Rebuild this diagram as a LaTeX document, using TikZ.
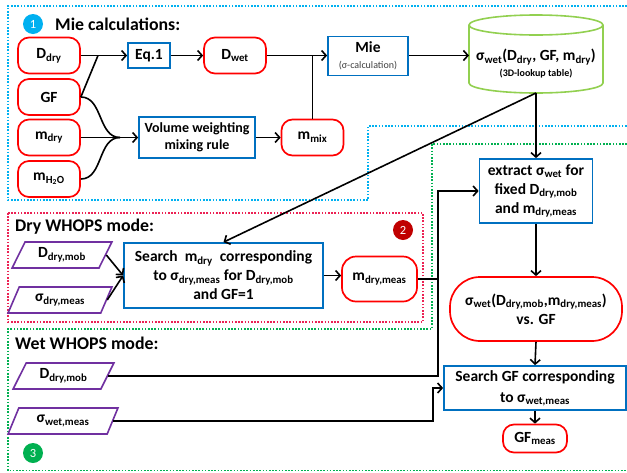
\documentclass[tikz,border=0pt]{standalone}
\usepackage{fontspec}
\setmainfont{Carlito}
\usetikzlibrary{arrows.meta,shapes.geometric}

\definecolor{boxblue}{RGB}{0,112,192}
\definecolor{redline}{RGB}{255,0,0}
\definecolor{purp}{RGB}{112,48,160}
\definecolor{lutgreen}{RGB}{146,208,80}
\definecolor{regblue}{RGB}{0,176,240}
\definecolor{regred}{RGB}{236,34,84}
\definecolor{reggreen}{RGB}{0,176,80}
\definecolor{badgered}{RGB}{192,0,0}

\newcommand\sbt[1]{\textsubscript{#1}}

\tikzset{
  every node/.style={font=\bfseries\fontsize{15.5}{19}\selectfont, align=center},
  redbox/.style={draw=redline, line width=1.7pt, rounded corners=11pt,
    minimum width=62pt, minimum height=36pt, inner sep=1pt},
  bluebox/.style={draw=boxblue, line width=1.7pt, inner sep=1pt},
  databox/.style={draw=purp, line width=1.6pt, trapezium,
    trapezium left angle=60, trapezium right angle=120,
    trapezium stretches=true, minimum height=26pt, inner sep=0pt},
  conn/.style={line width=1.6pt},
  arr/.style={conn, -{Straight Barb[length=4.5pt,width=10pt]}},
  region/.style={line width=1.8pt, dash pattern=on 1.6pt off 1.6pt},
  badge/.style={circle, inner sep=0pt, minimum size=20pt, text=white,
    font=\fontsize{12.5}{12}\selectfont},
  title/.style={anchor=base west, inner sep=0pt,
    font=\bfseries\fontsize{17.8}{20}\selectfont},
}

\begin{document}
\begin{tikzpicture}[x=1pt,y=-1pt]
\useasboundingbox (0,0) rectangle (627,472);
\fill[white] (0,0) rectangle (627,472);

% dotted frames of the three stages
\draw[region, regblue] (627,6) -- (8,6) -- (8,200) -- (368,200) -- (368,126) -- (627,126);
\draw[region, reggreen] (627,144) -- (432,144) -- (432,329) -- (8,329) -- (8,470.5) -- (627,470.5);
\draw[region, regred] (8,213) rectangle (423,322);

% stage 1: Mie calculations
\node[badge, fill=regblue] (b1) at (33,24) {1};
\node[title] (t1) at (55,30) {Mie calculations:};

\node[redbox] (ddry) at (49,55.5) {D\sbt{dry}};
\node[redbox] (gf)   at (49,97)   {GF};
\node[redbox] (mdry) at (49,137.5) {m\sbt{dry}};
\node[redbox] (mh2o) at (49,179)  {m\sbt{H\sbt{2}O}};

\node[bluebox, minimum width=42pt, minimum height=25pt] (eq1) at (149,55.5) {Eq.1};
\node[redbox] (dwet) at (235,55.5) {D\sbt{wet}};
\node[bluebox, minimum width=116pt, minimum height=41pt,
  font=\bfseries\fontsize{14}{17}\selectfont] (vol) at (197,137.5) {Volume weighting\\mixing rule};
\node[redbox] (mmix) at (312.5,137.5) {m\sbt{mix}};
\node[bluebox, minimum width=80pt, minimum height=39pt] (mie) at (368,56)
  {Mie\\[-3pt]{\mdseries\fontsize{10}{12}\selectfont\color{darkgray}(σ-calculation)}};

% lookup table drawn as a cylinder
\draw[lutgreen, line width=1.6pt] (536,25) ellipse [x radius=67pt, y radius=10pt];
\draw[lutgreen, line width=1.6pt] (469,25) -- (469,83)
  arc[start angle=180, end angle=360, x radius=67pt, y radius=10pt] -- (603,25);
\node (lut) at (536,64) {σ\sbt{wet}(D\sbt{dry}, GF, m\sbt{dry})\\[-3pt]{\fontsize{10}{12}\selectfont(3D-lookup table)}};
\coordinate (lutw) at (469,55.5);
\coordinate (lutb) at (536,93);

\coordinate (gfj) at (98,55.5);
\coordinate (vj) at (120,137.5);
\draw[arr] (ddry.east) -- (eq1.west);
\draw[conn] (gf.east) -- (gfj);
\draw[arr] (eq1.east) -- (dwet.west);
\draw[arr] (dwet.east) -- (dwet.east -| mie.west);
\draw[conn] (mmix.north) -- (mmix.north |- dwet.east);
\draw[arr] (mie.east |- lutw) -- (lutw);
\draw[conn] (gf.east) to[out=0,in=180] (vj);
\draw[conn] (mh2o.east) to[out=0,in=180] (vj);
\draw[arr] (mdry.east) -- (vol.west);
\draw[arr] (vol.east) -- (mmix.west);

% stage 2: dry WHOPS mode
\node[title] (t2) at (15,231) {Dry WHOPS mode:};
\node[badge, fill=badgered] (b2) at (403,230) {2};
\node[databox, minimum width=100pt] (ddrymob1) at (62,255) {D\sbt{dry,mob}};
\node[databox, minimum width=104pt] (sdrymeas) at (60,300) {σ\sbt{dry,meas}};
\node[bluebox, minimum width=199pt, minimum height=65pt] (search1) at (223.5,275.5)
  {Search\ \ m\sbt{dry}\ \ corresponding\\to σ\sbt{dry,meas} for D\sbt{dry,mob}\\and GF=1};
\node[redbox, minimum width=75pt, minimum height=45pt, rounded corners=14pt] (mdrymeas) at (379.5,279) {m\sbt{dry,meas}};

\draw[arr] (ddrymob1.east) -- (search1.west);
\draw[arr] (sdrymeas.east) -- (search1.west);
\draw[arr] (search1.east) -- (search1.east -| mdrymeas.west);
\draw[arr] (lutb) -- (search1.north);

% right-hand column
\node[bluebox, minimum width=113pt, minimum height=64pt] (extract) at (536,191)
  {extract σ\sbt{wet} for\\fixed D\sbt{dry,mob}\\and m\sbt{dry,meas}};
\node[draw=redline, line width=1.7pt, rounded corners=30pt, minimum width=172pt,
  minimum height=64pt] (sigvsgf) at (536,309)
  {σ\sbt{wet}(D\sbt{dry,mob},m\sbt{dry,meas})\\vs. GF};
\node[bluebox, minimum width=182pt, minimum height=44pt, font=\bfseries\fontsize{15.5}{21}\selectfont] (searchgf) at (535,388)
  {Search GF corresponding\\to σ\sbt{wet,meas}};
\node[redbox, minimum width=64pt, minimum height=28pt] (gfmeas) at (535,438.5) {GF\sbt{meas}};

\draw[arr] (lutb) -- (extract.north);
\draw[arr] (extract.south) -- (sigvsgf.north);
\draw[arr] (sigvsgf.south) -- (searchgf.north);
\draw[arr] (searchgf.south) -- (gfmeas.north);

% stage 3: wet WHOPS mode
\node[title] (t3) at (15,349) {Wet WHOPS mode:};
\node[badge, fill=reggreen] (b3) at (33,453) {3};
\node[databox, minimum width=101pt] (ddrymob2) at (63.5,376) {D\sbt{dry,mob}};
\node[databox, minimum width=110pt] (swetmeas) at (63,421) {σ\sbt{wet,meas}};

\coordinate (jx) at (438,191);
\coordinate (jy) at (433,388);
\draw[arr] (ddrymob2.east) -| (jx) -- (extract.west);
\draw[conn] (mdrymeas.east) -- (mdrymeas.east -| jx);
\draw[arr] (swetmeas.east) -| (jy) -- (searchgf.west);
\end{tikzpicture}
\end{document}
